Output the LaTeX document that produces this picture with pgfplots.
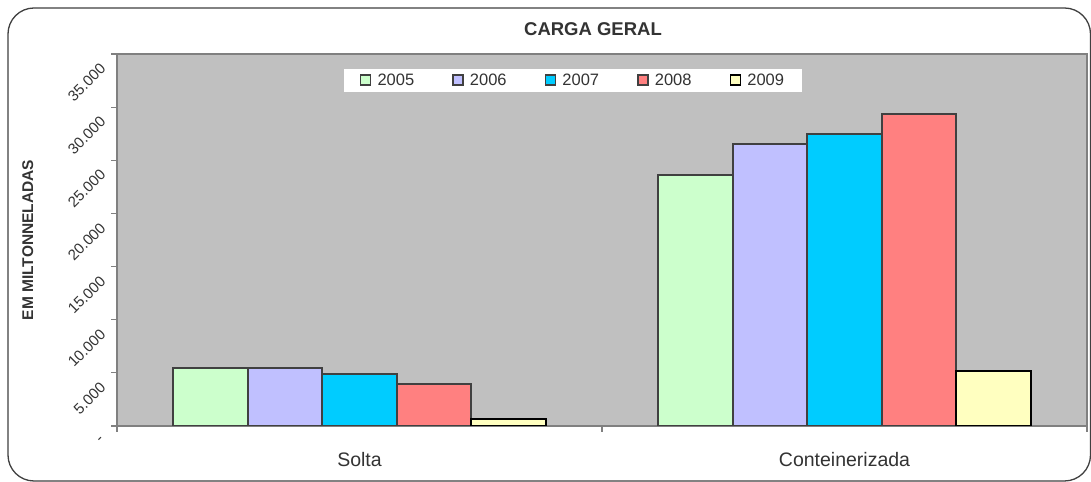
\documentclass[border=0pt]{standalone}
\usepackage{fontspec}
\setmainfont{Liberation Sans}
\usepackage{pgfplots}
\pgfplotsset{compat=1.18}
\definecolor{c05}{HTML}{CCFFCC}
\definecolor{c06}{HTML}{C0C0FF}
\definecolor{c07}{HTML}{00CCFF}
\definecolor{c08}{HTML}{FF8080}
\definecolor{c09}{HTML}{FFFFC0}
\definecolor{edge}{HTML}{404040}
\definecolor{txt}{HTML}{333333}
\definecolor{plotbg}{HTML}{C0C0C0}
\pgfplotsset{mylegend/.style={legend image code/.code={\draw[##1, line width=1.5bp] (0bp,-5bp) rectangle (10bp,5bp); \path (14bp,0bp);}}}
\begin{document}
\begin{tikzpicture}[x=1bp,y=1bp]
\useasboundingbox (0,0) rectangle (1091,482);
\fill[white] (0,0) rectangle (1091,482);
\draw[edge, line width=1.3bp, rounded corners=26bp] (8,1) rectangle (1090.5,474);
\begin{axis}[
  at={(117bp,56bp)}, anchor=south west,
  scale only axis, width=970bp, height=372bp,
  xmin=-0.5, xmax=1.5, ymin=0, ymax=35000,
  scaled y ticks=false,
  axis background/.style={fill=plotbg},
  axis line style={draw=gray, line width=1.5bp},
  ybar=0pt, bar width=74.6bp,
  xtick={-0.5,0.5,1.5}, xticklabels={},
  extra x ticks={0,1}, extra x tick labels={Solta,Conteinerizada},
  extra x tick style={major tick length=0pt},
  xticklabel style={font=\fontsize{19.5bp}{22bp}\selectfont, color=txt, anchor=base, yshift=-41bp, inner sep=0pt},
  ytick={0,5000,...,35000},
  yticklabels={-,5.000,10.000,15.000,20.000,25.000,30.000,35.000},
  yticklabel style={font=\fontsize{15bp}{17bp}\selectfont, color=txt, xshift=-8bp, yshift=-12bp, rotate=45, anchor=east, inner sep=0pt},
  tick align=outside, major tick length=6bp, tick pos=left,
  tick style={draw=gray, line width=1.2bp},
  legend style={at={(0.470,0.930)}, anchor=center, draw=none, fill=white,
    legend columns=5, font=\fontsize{16.5bp}{18bp}\selectfont\color{txt},
    inner xsep=16bp, inner ysep=3bp,
    /tikz/every even column/.append style={column sep=36bp},
    nodes={inner sep=2bp}},
]
\addplot[fill=c05, draw=edge, line width=2bp, mylegend] coordinates {(0,5420) (1,23660)};
\addplot[fill=c06, draw=edge, line width=2bp, mylegend] coordinates {(0,5480) (1,26550)};
\addplot[fill=c07, draw=edge, line width=2bp, mylegend] coordinates {(0,4900) (1,27430)};
\addplot[fill=c08, draw=edge, line width=2bp, mylegend] coordinates {(0,3980) (1,29380)};
\addplot[fill=c09, draw=black, line width=2bp, mylegend] coordinates {(0,630) (1,5210)};
\legend{2005,2006,2007,2008,2009}
\end{axis}
\node[anchor=base, font=\fontsize{18.5bp}{22bp}\selectfont\bfseries, text=txt, inner sep=0pt] at (593,446) {CARGA GERAL};
\node[anchor=base, rotate=90, font=\fontsize{15.5bp}{18bp}\selectfont\bfseries, text=txt, inner sep=0pt] at (33,242) {EM MILTONNELADAS};
\end{tikzpicture}
\end{document}
